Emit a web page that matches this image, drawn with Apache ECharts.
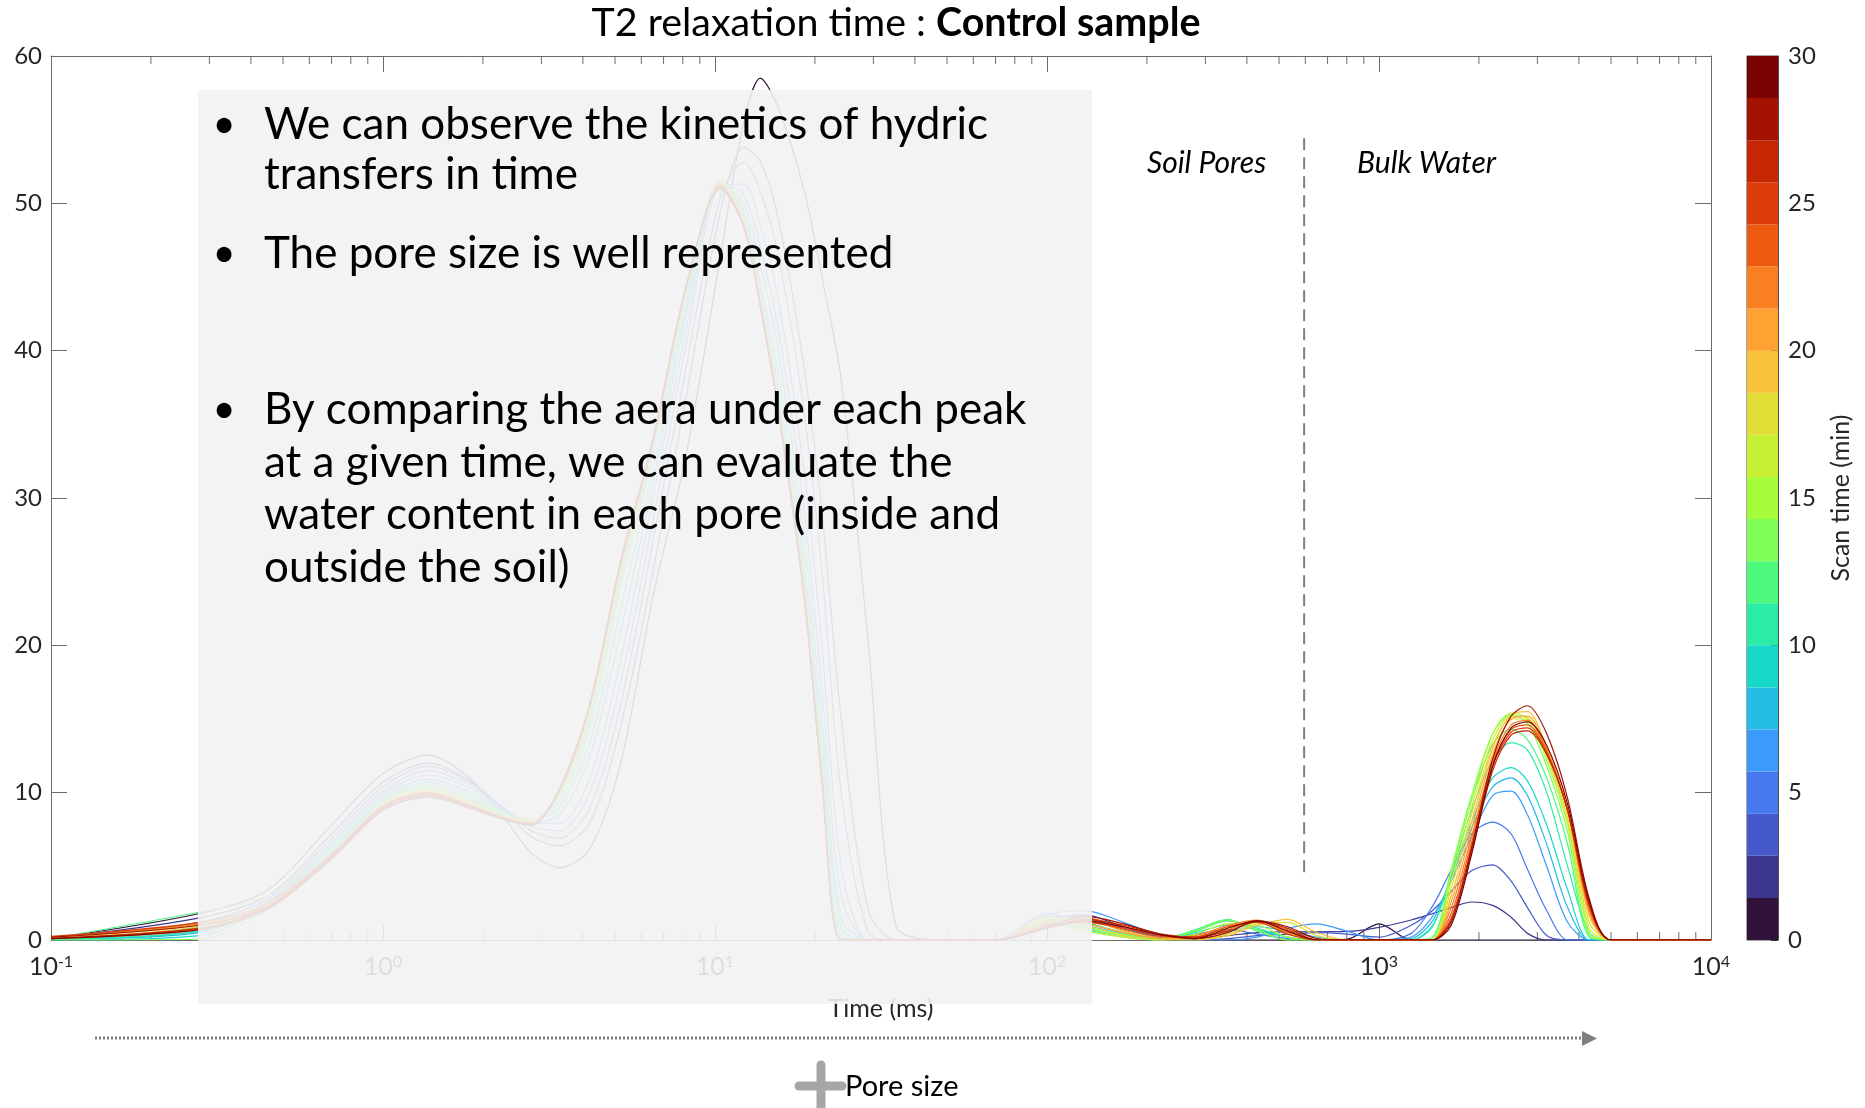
<!DOCTYPE html>
<html>
<head>
<meta charset="utf-8">
<title>T2 relaxation time : Control sample</title>
<script src="https://cdn.jsdelivr.net/npm/echarts@6/dist/echarts.min.js"></script>
<style>
  html, body { margin: 0; padding: 0; background: #fff; }
  #myChart { width: 1865px; height: 1108px; }
</style>
</head>
<body>
<div id="myChart"></div>
<script>
// T2 grid (ms), shared by every scan
const t2Grid = [
  0.1, 0.28, 0.45, 0.7, 1.0, 1.37, 1.8, 2.3, 2.8, 3.4, 4.2, 5.2, 6.5, 8.2, 10.4, 12.2, 13.7, 15.5, 18.5, 21, 24, 29, 35, 45,
  70, 100, 130, 170, 220, 280, 350, 430, 530, 650, 800, 1000,
  1250, 1450, 1650, 1900, 2200, 2500, 2800, 3200, 3700, 4300, 5000, 10000
]

// one amplitude list per scan (same order as t2Grid)
const s00 = [0.1, 1.8, 3.4, 7.8, 11.3, 12.55, 11.1, 8.4, 5.9, 4.9, 6.2, 12, 23.3, 33, 46.5, 55.5, 58.5, 56.5, 51, 45, 38, 20, 1, 0,
  0, 1.0, 1.3, 0.7, 0.2, 0, 0, 0, 0, 0, 0.05, 1.1,
  0, 0, 0, 0, 0, 0, 0, 0, 0, 0, 0, 0]
const s01 = [0.1, 1.5, 3.0, 7.2, 10.7, 12.0, 10.9, 8.9, 7.0, 6.4, 8.0, 14.5, 25, 37, 49.5, 53.8, 52.8, 49, 39, 29, 15, 2, 0, 0,
  0, 1.3, 1.7, 0.9, 0.3, 0.1, 0.3, 0.5, 0.56, 0.56, 0.58, 0.86,
  1.36, 1.8, 2.2, 2.58, 2.35, 1.55, 0.45, 0, 0, 0, 0, 0]
const s02 = [0.1, 1.2, 2.8, 6.9, 10.4, 11.8, 10.8, 9.0, 7.4, 6.9, 9.0, 16, 27, 39, 50.5, 52.8, 50.8, 46.5, 36, 25, 10, 0.5, 0, 0,
  0, 1.6, 1.5, 0.8, 0.2, 0, 0.1, 0.3, 0.4, 0.5, 0.4, 0.2,
  1.0, 2.0, 3.3, 4.7, 5.1, 4.0, 2.2, 0.3, 0, 0, 0, 0]
const s03 = [0.05, 0.9, 2.6, 6.6, 10.1, 11.5, 10.6, 9.0, 7.7, 7.4, 10, 17.5, 28.5, 40.5, 51.2, 51.3, 48.5, 43.5, 32, 20, 5, 0, 0, 0,
  0, 1.8, 1.2, 0.5, 0.1, 0.4, 0.7, 0.4, 0.1, 0, 0, 0,
  0.45, 2.3, 4.75, 7.2, 8.0, 7.2, 4.8, 2.0, 0, 0, 0, 0]
const s04 = [0.05, 0.6, 2.5, 6.4, 9.9, 11.2, 10.4, 8.9, 7.9, 7.9, 11, 19, 30, 41.5, 51.4, 50.6, 47, 41.5, 29.5, 17, 3, 0, 0, 0,
  0, 1.7, 2.0, 1.2, 0.3, 0, 0, 0.2, 0.8, 1.1, 0.6, 0,
  0.2, 1.6, 4.0, 7.0, 9.8, 10.1, 8.5, 5.0, 1.2, 0, 0, 0]
const s05 = [0.05, 0.5, 2.4, 6.2, 9.7, 10.9, 10.1, 8.8, 8.0, 8.5, 12.5, 21, 31, 42.5, 51.4, 50, 45.8, 40, 27.5, 15, 1.5, 0, 0, 0,
  0, 1.4, 1.0, 0.4, 0.1, 0.2, 0.6, 0.9, 0.6, 0.2, 0, 0,
  0.1, 1.3, 4.2, 7.6, 10.4, 11.0, 9.8, 6.5, 2.2, 0, 0, 0]
const s06 = [0, 0.3, 2.3, 6.0, 9.5, 10.7, 9.9, 8.7, 8.1, 9.0, 13.5, 22.5, 32, 43, 51.4, 49.5, 44.5, 38.5, 26, 13.5, 0.8, 0, 0, 0,
  0, 1.2, 0.8, 0.3, 0, 0.5, 1.0, 0.7, 0.2, 0, 0, 0,
  0, 1.0, 4.3, 8.0, 11.0, 11.7, 10.8, 7.8, 3.4, 0, 0, 0]
const s07 = [0.05, 0.6, 2.4, 6.0, 9.4, 10.5, 9.7, 8.6, 8.1, 9.4, 14.5, 24, 33, 43.5, 51.5, 49.2, 44, 37.5, 25, 12.5, 0.3, 0, 0, 0,
  0, 1.1, 0.7, 0.2, 0, 0.6, 1.3, 0.8, 0.2, 0, 0, 0,
  0, 0.9, 4.5, 8.8, 12.2, 13.4, 12.9, 10.0, 5.0, 0.5, 0, 0]
const s08 = [0.1, 1.9, 3.0, 6.2, 9.5, 10.4, 9.6, 8.6, 8.2, 9.7, 15, 24.5, 33.3, 43.8, 51.6, 49, 43.7, 37, 24.6, 12, 0.2, 0, 0, 0,
  0, 1.6, 1.2, 0.5, 0.1, 0.7, 1.4, 0.6, 0, 0, 0, 0,
  0, 0.2, 4.6, 9.5, 13.3, 14.3, 13.6, 11.0, 6.5, 0.2, 0, 0]
const s09 = [0, 0.05, 2.1, 5.8, 9.4, 10.3, 9.5, 8.5, 8.2, 9.8, 15.2, 24.8, 33.4, 43.9, 51.6, 48.9, 43.6, 36.8, 24.5, 11.8, 0, 0, 0, 0,
  0, 1.3, 0.9, 0.4, 0.1, 0.6, 1.35, 0.7, 0, 0, 0, 0,
  0, 0.1, 4.8, 9.8, 14.0, 15.3, 14.7, 11.8, 7.3, 0.3, 0, 0]
const s10 = [0.1, 0.8, 2.3, 5.8, 9.3, 10.2, 9.4, 8.5, 8.1, 9.9, 15.4, 25, 33.5, 44, 51.5, 48.9, 43.5, 36.6, 24.4, 11.6, 0, 0, 0, 0,
  0, 1.4, 0.8, 0.3, 0, 0.4, 1.1, 1.0, 0.2, 0, 0, 0,
  0, 0, 4.5, 9.5, 14.0, 15.4, 15.0, 12.2, 7.8, 0.5, 0, 0]
const s11 = [0.15, 1.1, 2.5, 5.9, 9.3, 10.2, 9.4, 8.5, 8.1, 10, 15.5, 25, 33.5, 44, 51.5, 48.8, 43.4, 36.5, 24.3, 11.5, 0, 0, 0, 0,
  0, 1.2, 0.6, 0.2, 0, 0.2, 0.8, 1.2, 0.5, 0, 0, 0,
  0, 0, 4.0, 9.0, 13.6, 15.2, 15.1, 12.5, 8.0, 0.8, 0, 0]
const s12 = [0.1, 0.9, 2.3, 5.8, 9.2, 10.1, 9.3, 8.4, 8.0, 10, 15.6, 25.1, 33.6, 44.1, 51.4, 48.8, 43.4, 36.5, 24.2, 11.4, 0, 0, 0, 0,
  0, 1.5, 1.0, 0.3, 0, 0, 0.4, 1.1, 1.2, 0.3, 0, 0,
  0, 0, 3.5, 8.5, 13.2, 15.0, 15.0, 12.6, 8.3, 1.2, 0, 0]
const s13 = [0.2, 1.0, 2.4, 5.8, 9.2, 10.1, 9.3, 8.4, 8.0, 10, 15.7, 25.2, 33.6, 44.1, 51.4, 48.7, 43.3, 36.4, 24.1, 11.3, 0, 0, 0, 0,
  0, 1.3, 1.4, 0.6, 0.1, 0, 0.3, 1.0, 1.4, 0.5, 0, 0,
  0, 0, 3.0, 8.0, 13.0, 15.3, 15.5, 13.0, 8.7, 1.6, 0, 0]
const s14 = [0.1, 0.8, 2.2, 5.7, 9.1, 10.0, 9.3, 8.4, 8.0, 10.1, 15.8, 25.3, 33.7, 44.2, 51.3, 48.7, 43.3, 36.3, 24, 11.2, 0, 0, 0, 0,
  0, 1.2, 1.1, 0.5, 0.1, 0.2, 0.9, 1.3, 0.6, 0, 0, 0,
  0, 0, 2.6, 7.5, 12.6, 15.0, 15.2, 13.0, 8.8, 1.8, 0, 0]
const s15 = [0.2, 1.1, 2.4, 5.8, 9.1, 10.0, 9.2, 8.3, 7.9, 10.1, 15.8, 25.4, 33.7, 44.2, 51.3, 48.6, 43.2, 36.2, 23.9, 11.1, 0, 0, 0, 0,
  0, 1.1, 1.3, 0.7, 0.2, 0.3, 1.0, 1.35, 0.5, 0, 0, 0,
  0, 0, 2.2, 7.0, 12.2, 14.6, 14.9, 12.9, 8.8, 2.0, 0, 0]
const s16 = [0.1, 0.7, 2.2, 5.6, 9.0, 9.9, 9.2, 8.3, 7.9, 10.2, 15.9, 25.5, 33.8, 44.3, 51.2, 48.6, 43.1, 36.1, 23.8, 11, 0, 0, 0, 0,
  0, 1.0, 1.5, 0.9, 0.3, 0.1, 0.7, 1.3, 0.7, 0, 0, 0,
  0, 0, 1.8, 6.6, 12.0, 14.3, 14.6, 12.8, 8.8, 2.2, 0, 0]
const s17 = [0.25, 1.2, 2.5, 5.8, 9.1, 10.0, 9.2, 8.3, 7.9, 10.1, 15.9, 25.5, 33.8, 44.3, 51.2, 48.5, 43.1, 36.1, 23.8, 11, 0, 0, 0, 0,
  0, 0.9, 1.2, 0.8, 0.3, 0.2, 0.9, 1.2, 0.4, 0, 0, 0,
  0, 0, 1.5, 6.3, 11.8, 14.1, 14.4, 12.7, 8.8, 2.3, 0, 0]
const s18 = [0.1, 0.8, 2.2, 5.6, 8.9, 9.8, 9.1, 8.3, 7.9, 10.2, 16, 25.6, 33.9, 44.4, 51.1, 48.5, 43, 36, 23.7, 10.9, 0, 0, 0, 0,
  0, 0.8, 1.4, 1.0, 0.4, 0.2, 0.6, 1.25, 0.8, 0, 0, 0,
  0, 0, 1.3, 6.0, 11.5, 13.9, 14.2, 12.6, 8.8, 2.4, 0, 0]
const s19 = [0.2, 1.0, 2.3, 5.7, 9.0, 9.9, 9.1, 8.2, 7.8, 10.2, 16, 25.6, 33.9, 44.4, 51.1, 48.4, 43, 36, 23.6, 10.8, 0, 0, 0, 0,
  0, 0.9, 1.6, 1.1, 0.4, 0.1, 0.5, 1.3, 0.9, 0.1, 0, 0,
  0, 0, 1.2, 6.2, 12.3, 15.2, 15.9, 14.0, 9.6, 2.8, 0, 0]
const s20 = [0.1, 0.7, 2.1, 5.5, 8.8, 9.7, 9.0, 8.2, 7.8, 10.3, 16.1, 25.8, 34, 44.5, 51, 48.4, 42.9, 35.9, 23.5, 10.7, 0, 0, 0, 0,
  0, 0.8, 1.3, 0.9, 0.35, 0.1, 0.8, 1.3, 0.6, 0, 0, 0,
  0, 0, 1.0, 5.8, 11.8, 14.4, 14.8, 13.2, 9.2, 2.6, 0, 0]

const scanCurves = [s00, s01, s02, s03, s04, s05, s06, s07, s08, s09, s10,
  s11, s12, s13, s14, s15, s16, s17, s18, s19, s20]
const scanTimes = [0, 1.5, 3, 4.5, 6, 7.5, 9, 10.5, 12, 13.5, 15, 16.5, 18, 19.5, 21, 22.5, 24, 25.5, 27, 28.5, 30]

// turbo colormap, 21 levels (colorbar 0 -> 30 min)
const turboColors = ['#30123b', '#3e378f', '#4559cb', '#4679ef', '#3b9bfd', '#25bce6', '#18d8cb',
  '#2aeca4', '#4cf97c', '#7ffe55', '#a6fc3b', '#c7ef34', '#e1dd37', '#f7c13a', '#fea332',
  '#fa7f21', '#ef5a11', '#dd3d08', '#c52603', '#a41301', '#7a0403']

// dashed separator between soil pores and bulk water
const dividerLine = [[595, 4.6], [595, 54.7]]

// minor ticks of the log axis (2..9 in each decade)
const minorTicks = []
for (let d = -1; d < 4; d++) {
  for (let k = 2; k <= 9; k++) minorTicks.push(k * Math.pow(10, d))
}

const font = 'Lato, "Open Sans", sans-serif'
const axisGray = '#6b6b6b'
const labelColor = '#262626'

const myChart = echarts.init(document.getElementById('myChart'))

const curveSeries = scanCurves.map((curve, i) => ({
  name: 'Scan ' + scanTimes[i] + ' min',
  type: 'line',
  xAxisIndex: 0,
  yAxisIndex: 0,
  data: t2Grid.map((t, k) => [t, curve[k]]),
  symbol: 'none',
  smooth: 0.3,
  lineStyle: { width: 1.2, color: turboColors[i] },
  itemStyle: { color: turboColors[i] },
  z: 2
}))

const cbStep = 30 / turboColors.length
const colorbarSeries = turboColors.map(c => ({
  type: 'bar',
  xAxisIndex: 2,
  yAxisIndex: 2,
  stack: 'colorbar',
  barWidth: '100%',
  data: [cbStep],
  itemStyle: { color: c },
  silent: true
}))

const boxText = (txt, x, y) => ({
  type: 'text', x: x, y: y, z: 101,
  style: { text: txt, fill: '#000', font: '44px ' + font, align: 'left', verticalAlign: 'middle' }
})
const bullet = y => ({
  type: 'text', x: 224, y: y, z: 101,
  style: { text: '•', fill: '#000', font: '40px ' + font, align: 'center', verticalAlign: 'middle' }
})

myChart.setOption({
  animation: false,
  backgroundColor: '#fff',
  grid: [
    { left: 51, top: 56, width: 1660, height: 884 },
    { left: 1747, top: 56, width: 31, height: 884, show: true, borderColor: '#4d4d4d', borderWidth: 1 }
  ],
  xAxis: [{
    type: 'log', logBase: 10, min: 0.1, max: 10000, gridIndex: 0, position: 'bottom',
    axisLine: { show: true, onZero: false, lineStyle: { color: axisGray } },
    axisTick: { show: true, inside: true, length: 16, lineStyle: { color: axisGray } },
    splitLine: { show: false },
    axisLabel: {
      margin: 14,
      formatter: v => '{b|10}{s|' + Math.round(Math.log10(v)) + '}',
      rich: {
        b: { fontSize: 25, fontFamily: font, color: labelColor },
        s: { fontSize: 16, fontFamily: font, color: labelColor, verticalAlign: 'top' }
      }
    },
    name: 'Time (ms)',
    nameLocation: 'middle',
    nameGap: 56,
    nameTextStyle: { fontSize: 25, fontFamily: font, color: labelColor }
  }, {
    type: 'log', logBase: 10, min: 0.1, max: 10000, gridIndex: 0, position: 'top',
    axisLine: { show: true, onZero: false, lineStyle: { color: axisGray } },
    axisTick: { show: true, inside: true, length: 16, lineStyle: { color: axisGray } },
    axisLabel: { show: false },
    splitLine: { show: false }
  }, {
    type: 'category', gridIndex: 1, data: ['scan'], show: false
  }],
  yAxis: [{
    type: 'value', min: 0, max: 60, interval: 10, gridIndex: 0, position: 'left',
    axisLine: { show: true, lineStyle: { color: axisGray } },
    axisTick: { show: true, inside: true, length: 16, lineStyle: { color: axisGray } },
    axisLabel: { margin: 9, fontSize: 24, fontFamily: font, color: labelColor },
    splitLine: { show: false }
  }, {
    type: 'value', min: 0, max: 60, interval: 10, gridIndex: 0, position: 'right',
    axisLine: { show: true, lineStyle: { color: axisGray } },
    axisTick: { show: true, inside: true, length: 16, lineStyle: { color: axisGray } },
    axisLabel: { show: false },
    splitLine: { show: false }
  }, {
    type: 'value', min: 0, max: 30, interval: 5, gridIndex: 1, position: 'right',
    axisLine: { show: true, lineStyle: { color: '#4d4d4d' } },
    axisTick: { show: true, inside: true, length: 7, lineStyle: { color: '#333' } },
    axisLabel: { margin: 10, fontSize: 24, fontFamily: font, color: labelColor },
    splitLine: { show: false },
    name: 'Scan time (min)',
    nameLocation: 'middle',
    nameRotate: 90,
    nameGap: 50,
    nameTextStyle: { fontSize: 25, fontFamily: font, color: labelColor }
  }],
  series: [
    ...curveSeries,
    {
      type: 'custom',
      xAxisIndex: 0,
      yAxisIndex: 0,
      silent: true,
      clip: false,
      data: minorTicks.map(v => [v, 0]),
      renderItem: (params, api) => {
        const v = api.value(0)
        const lo = api.coord([v, 0])
        const hi = api.coord([v, 60])
        const st = { stroke: axisGray, lineWidth: 1 }
        return {
          type: 'group',
          children: [
            { type: 'line', shape: { x1: lo[0], y1: lo[1], x2: lo[0], y2: lo[1] - 8 }, style: st },
            { type: 'line', shape: { x1: hi[0], y1: hi[1], x2: hi[0], y2: hi[1] + 8 }, style: st }
          ]
        }
      },
      z: 1
    },
    {
      type: 'line',
      xAxisIndex: 0,
      yAxisIndex: 0,
      data: dividerLine,
      symbol: 'none',
      silent: true,
      lineStyle: { color: '#7f7f7f', width: 2, type: [12, 7] },
      z: 3
    },
    ...colorbarSeries
  ],
  graphic: {
    elements: [
      // title
      {
        type: 'text', x: 896, y: 23, z: 10,
        style: {
          text: '{n|T2 relaxation time : }{b|Control sample}',
          align: 'center', verticalAlign: 'middle',
          rich: {
            n: { fontSize: 39.4, fontFamily: font, fill: '#000' },
            b: { fontSize: 39.4, fontFamily: font, fontWeight: 'bold', fill: '#000' }
          }
        }
      },
      // region labels
      { type: 'text', x: 1147, y: 163, z: 10,
        style: { text: 'Soil Pores', fill: '#000', font: 'italic 30px ' + font, align: 'left', verticalAlign: 'middle' } },
      { type: 'text', x: 1357, y: 163, z: 10,
        style: { text: 'Bulk Water', fill: '#000', font: 'italic 30px ' + font, align: 'left', verticalAlign: 'middle' } },
      // grey slide box laid over the left part of the plot
      { type: 'rect', z: 100, shape: { x: 198, y: 90, width: 894, height: 914 },
        style: { fill: 'rgba(242,242,242,0.9)' } },
      bullet(125),
      bullet(254),
      bullet(410),
      boxText('We can observe the kinetics of hydric', 264, 125),
      boxText('transfers in time', 264, 175),
      boxText('The pore size is well represented', 264, 254),
      boxText('By comparing the aera under each peak', 264, 410),
      boxText('at a given time, we can evaluate the', 264, 463),
      boxText('water content in each pore (inside and', 264, 515),
      boxText('outside the soil)', 264, 568),
      // dotted arrow under the axis
      { type: 'line', z: 10, shape: { x1: 95, y1: 1038, x2: 1583, y2: 1038 },
        style: { stroke: '#7f7f7f', lineWidth: 3, lineDash: [2, 2] } },
      { type: 'polygon', z: 10, shape: { points: [[1582, 1031], [1597, 1038.5], [1582, 1046]] },
        style: { fill: '#7f7f7f' } },
      // "+ Pore size"
      { type: 'line', z: 10, shape: { x1: 799, y1: 1086, x2: 842, y2: 1086 },
        style: { stroke: '#a6a6a6', lineWidth: 9, lineCap: 'round' } },
      { type: 'line', z: 10, shape: { x1: 821, y1: 1065, x2: 821, y2: 1112 },
        style: { stroke: '#a6a6a6', lineWidth: 9, lineCap: 'round' } },
      { type: 'text', x: 845, y: 1087, z: 10,
        style: { text: 'Pore size', fill: '#000', font: '29px ' + font, align: 'left', verticalAlign: 'middle' } }
    ]
  }
})
</script>
</body>
</html>
